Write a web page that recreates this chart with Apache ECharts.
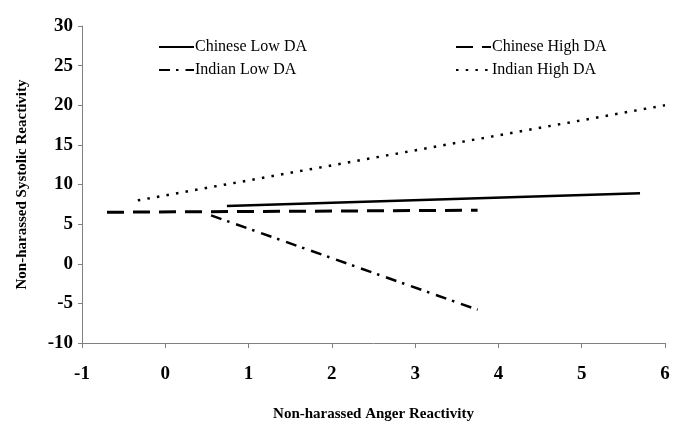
<!DOCTYPE html>
<html>
<head>
<meta charset="utf-8">
<script src="https://cdn.jsdelivr.net/npm/echarts@6/dist/echarts.min.js"></script>
<style>
  html, body { margin: 0; padding: 0; background: #fff; }
  #chart { width: 682px; height: 427px; }
</style>
</head>
<body>
<div id="chart"></div>
<script>
// endpoints of each simple-slope line
const seriesNames = ["Chinese Low DA", "Chinese High DA", "Indian Low DA", "Indian High DA"];
const chineseLowX = [0.74, 5.7];
const chineseLowY = [7.3, 8.9];
const chineseHighX = [-0.7, 3.75];
const chineseHighY = [6.5, 6.75];
const indianLowX = [0.55, 3.75];
const indianLowY = [6.1, -5.8];
const indianHighX = [-0.33, 6];
const indianHighY = [8.0, 20];

const serif = "Liberation Serif";

function pairs(xs, ys) {
  return xs.map((x, i) => [x, ys[i]]);
}

const styles = [
  { width: 2.5, type: "solid" },
  { width: 3, type: [17, 9] },
  { width: 2.5, type: [11, 6, 2.5, 7] },
  { width: 2.5, type: [2.5, 7.2] },
];
const allData = [
  pairs(chineseLowX, chineseLowY),
  pairs(chineseHighX, chineseHighY),
  pairs(indianLowX, indianLowY),
  pairs(indianHighX, indianHighY),
];

const chart = echarts.init(document.getElementById("chart"));

const legendPos = [
  { left: 153, top: 34 },
  { left: 450, top: 34 },
  { left: 153, top: 57 },
  { left: 450, top: 57 },
];

const option = {
  animation: false,
  grid: { left: 82, right: 17, top: 26, bottom: 79, containLabel: false },
  legend: seriesNames.map((name, i) => ({
    data: [name],
    left: legendPos[i].left,
    top: legendPos[i].top,
    itemWidth: 35,
    itemHeight: 14,
    itemStyle: { opacity: 0 },
    textStyle: { fontFamily: serif, fontSize: 16, color: "#000", padding: [0, 0, 0, -4] },
    selectedMode: false,
  })),
  xAxis: {
    type: "value",
    min: -1,
    max: 6,
    interval: 1,
    name: "Non-harassed Anger Reactivity",
    nameLocation: "middle",
    nameGap: 64,
    nameTextStyle: { fontFamily: serif, fontSize: 15, fontWeight: "bold", color: "#000" },
    axisLine: { onZero: false, lineStyle: { color: "#808080", width: 1 } },
    axisTick: { length: 5, lineStyle: { color: "#808080" } },
    axisLabel: { fontFamily: serif, fontSize: 19, fontWeight: "bold", color: "#000", margin: 22 },
    splitLine: { show: false },
  },
  yAxis: {
    type: "value",
    min: -10,
    max: 30,
    interval: 5,
    name: "Non-harassed Systolic Reactivity",
    nameLocation: "middle",
    nameGap: 52,
    nameTextStyle: { fontFamily: serif, fontSize: 15, fontWeight: "bold", color: "#000" },
    axisLine: { show: true, onZero: false, lineStyle: { color: "#808080", width: 1 } },
    axisTick: { show: true, length: 4, lineStyle: { color: "#808080" } },
    axisLabel: { fontFamily: serif, fontSize: 19, fontWeight: "bold", color: "#000", margin: 9 },
    splitLine: { show: false },
  },
  series: seriesNames.map((name, i) => ({
    name,
    type: "line",
    data: allData[i],
    symbol: "none",
    lineStyle: { color: "#000", width: styles[i].width, type: styles[i].type },
    itemStyle: { color: "#000" },
  })),
};

chart.setOption(option);
</script>
</body>
</html>
